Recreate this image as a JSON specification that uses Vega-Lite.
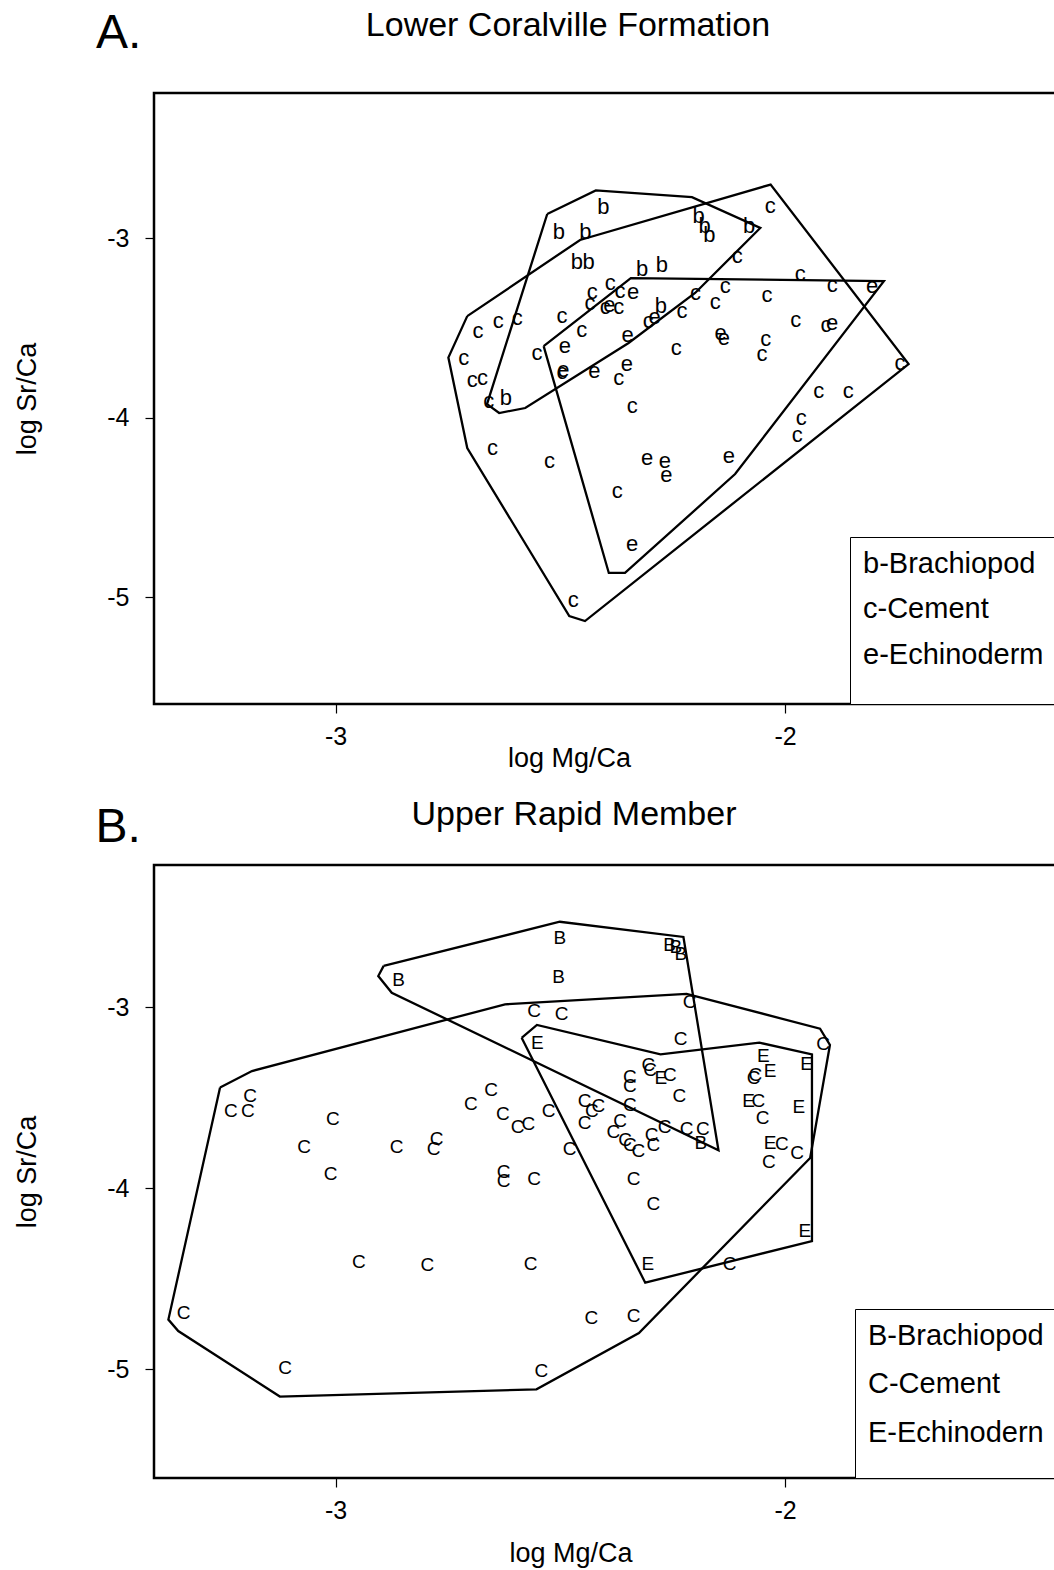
{
  "$schema": "https://vega.github.io/schema/vega-lite/v6.json",
  "background": "white",
  "padding": {"left": 12, "top": 7, "right": 0, "bottom": 0},
  "config": {
    "font": "Liberation Sans",
    "view": {"stroke": "black", "strokeWidth": 2.5},
    "axis": {"grid": false, "domain": false, "tickColor": "black", "tickWidth": 1.2, "tickSize": 9, "labelFont": "Liberation Sans", "labelFontSize": 25, "labelColor": "black", "titleFont": "Liberation Sans", "titleFontSize": 27, "titleFontWeight": "normal", "titleColor": "black"},
    "legend": {"labelFont": "Liberation Sans", "titleFont": "Liberation Sans"}
  },
  "datasets": {
    "lettersA": [
      {"letter":"b","x":-2.404,"y":-2.827},{"letter":"b","x":-2.503,"y":-2.969},{"letter":"b","x":-2.444,"y":-2.969},{"letter":"b","x":-2.192,"y":-2.877},{"letter":"b","x":-2.179,"y":-2.933},{"letter":"b","x":-2.168,"y":-2.983},{"letter":"b","x":-2.080,"y":-2.933},{"letter":"b","x":-2.463,"y":-3.136},{"letter":"b","x":-2.437,"y":-3.136},{"letter":"b","x":-2.318,"y":-3.173},{"letter":"b","x":-2.274,"y":-3.148},{"letter":"b","x":-2.276,"y":-3.379},{"letter":"b","x":-2.621,"y":-3.889},
      {"letter":"c","x":-2.033,"y":-2.822},{"letter":"c","x":-2.106,"y":-3.100},{"letter":"c","x":-1.966,"y":-3.201},{"letter":"c","x":-1.895,"y":-3.259},{"letter":"c","x":-2.040,"y":-3.315},{"letter":"c","x":-2.133,"y":-3.267},{"letter":"c","x":-2.199,"y":-3.304},{"letter":"c","x":-2.155,"y":-3.359},{"letter":"c","x":-2.229,"y":-3.404},{"letter":"c","x":-1.976,"y":-3.454},{"letter":"c","x":-1.909,"y":-3.485},{"letter":"c","x":-2.043,"y":-3.565},{"letter":"c","x":-2.051,"y":-3.646},{"letter":"c","x":-2.242,"y":-3.613},{"letter":"c","x":-1.744,"y":-3.696},{"letter":"c","x":-1.925,"y":-3.852},{"letter":"c","x":-1.859,"y":-3.852},{"letter":"c","x":-1.964,"y":-4.003},{"letter":"c","x":-1.973,"y":-4.097},{"letter":"c","x":-2.389,"y":-3.248},{"letter":"c","x":-2.429,"y":-3.301},{"letter":"c","x":-2.367,"y":-3.295},{"letter":"c","x":-2.434,"y":-3.362},{"letter":"c","x":-2.400,"y":-3.384},{"letter":"c","x":-2.370,"y":-3.384},{"letter":"c","x":-2.304,"y":-3.462},{"letter":"c","x":-2.496,"y":-3.435},{"letter":"c","x":-2.452,"y":-3.515},{"letter":"c","x":-2.638,"y":-3.465},{"letter":"c","x":-2.683,"y":-3.518},{"letter":"c","x":-2.596,"y":-3.443},{"letter":"c","x":-2.715,"y":-3.671},{"letter":"c","x":-2.696,"y":-3.791},{"letter":"c","x":-2.673,"y":-3.780},{"letter":"c","x":-2.659,"y":-3.908},{"letter":"c","x":-2.552,"y":-3.641},{"letter":"c","x":-2.496,"y":-3.747},{"letter":"c","x":-2.370,"y":-3.780},{"letter":"c","x":-2.340,"y":-3.936},{"letter":"c","x":-2.651,"y":-4.167},{"letter":"c","x":-2.524,"y":-4.242},{"letter":"c","x":-2.373,"y":-4.412},{"letter":"c","x":-2.471,"y":-5.014},
      {"letter":"e","x":-2.338,"y":-3.298},{"letter":"e","x":-2.391,"y":-3.373},{"letter":"e","x":-2.290,"y":-3.440},{"letter":"e","x":-1.806,"y":-3.267},{"letter":"e","x":-1.895,"y":-3.476},{"letter":"e","x":-2.143,"y":-3.529},{"letter":"e","x":-2.136,"y":-3.557},{"letter":"e","x":-2.350,"y":-3.543},{"letter":"e","x":-2.490,"y":-3.602},{"letter":"e","x":-2.493,"y":-3.735},{"letter":"e","x":-2.424,"y":-3.741},{"letter":"e","x":-2.352,"y":-3.702},{"letter":"e","x":-2.307,"y":-4.226},{"letter":"e","x":-2.267,"y":-4.242},{"letter":"e","x":-2.264,"y":-4.320},{"letter":"e","x":-2.125,"y":-4.214},{"letter":"e","x":-2.340,"y":-4.705}
    ],
    "hullsA": [
      {"hull":"b","i":0,"x":-2.529,"y":-2.866},{"hull":"b","i":1,"x":-2.421,"y":-2.735},{"hull":"b","i":2,"x":-2.207,"y":-2.772},{"hull":"b","i":3,"x":-2.055,"y":-2.944},{"hull":"b","i":4,"x":-2.200,"y":-3.306},{"hull":"b","i":5,"x":-2.348,"y":-3.585},{"hull":"b","i":6,"x":-2.578,"y":-3.947},{"hull":"b","i":7,"x":-2.636,"y":-3.975},{"hull":"b","i":8,"x":-2.663,"y":-3.925},{"hull":"b","i":9,"x":-2.529,"y":-2.866},
      {"hull":"c","i":0,"x":-2.707,"y":-3.435},{"hull":"c","i":1,"x":-2.749,"y":-3.666},{"hull":"c","i":2,"x":-2.707,"y":-4.170},{"hull":"c","i":3,"x":-2.480,"y":-5.106},{"hull":"c","i":4,"x":-2.445,"y":-5.134},{"hull":"c","i":5,"x":-1.725,"y":-3.702},{"hull":"c","i":6,"x":-2.032,"y":-2.702},{"hull":"c","i":7,"x":-2.456,"y":-3.011},{"hull":"c","i":8,"x":-2.707,"y":-3.435},
      {"hull":"e","i":0,"x":-2.537,"y":-3.602},{"hull":"e","i":1,"x":-2.343,"y":-3.223},{"hull":"e","i":2,"x":-1.780,"y":-3.240},{"hull":"e","i":3,"x":-2.111,"y":-4.315},{"hull":"e","i":4,"x":-2.356,"y":-4.866},{"hull":"e","i":5,"x":-2.392,"y":-4.866},{"hull":"e","i":6,"x":-2.537,"y":-3.602}
    ],
    "lettersB": [
      {"letter":"B","x":-2.860,"y":-2.851},{"letter":"B","x":-2.501,"y":-2.617},{"letter":"B","x":-2.504,"y":-2.834},{"letter":"B","x":-2.257,"y":-2.657},{"letter":"B","x":-2.243,"y":-2.669},{"letter":"B","x":-2.232,"y":-2.707},{"letter":"B","x":-2.187,"y":-3.750},
      {"letter":"C","x":-3.233,"y":-3.575},{"letter":"C","x":-3.190,"y":-3.494},{"letter":"C","x":-3.195,"y":-3.575},{"letter":"C","x":-3.006,"y":-3.617},{"letter":"C","x":-3.070,"y":-3.772},{"letter":"C","x":-3.011,"y":-3.924},{"letter":"C","x":-2.864,"y":-3.772},{"letter":"C","x":-2.775,"y":-3.731},{"letter":"C","x":-2.782,"y":-3.782},{"letter":"C","x":-2.699,"y":-3.536},{"letter":"C","x":-2.654,"y":-3.460},{"letter":"C","x":-2.628,"y":-3.593},{"letter":"C","x":-2.595,"y":-3.663},{"letter":"C","x":-2.571,"y":-3.645},{"letter":"C","x":-2.526,"y":-3.575},{"letter":"C","x":-2.626,"y":-3.912},{"letter":"C","x":-2.626,"y":-3.961},{"letter":"C","x":-2.558,"y":-3.949},{"letter":"C","x":-2.479,"y":-3.785},{"letter":"C","x":-2.948,"y":-4.407},{"letter":"C","x":-2.796,"y":-4.425},{"letter":"C","x":-2.566,"y":-4.422},{"letter":"C","x":-3.338,"y":-4.691},{"letter":"C","x":-3.112,"y":-4.994},{"letter":"C","x":-2.542,"y":-5.011},{"letter":"C","x":-2.431,"y":-4.717},{"letter":"C","x":-2.337,"y":-4.707},{"letter":"C","x":-2.558,"y":-3.022},{"letter":"C","x":-2.497,"y":-3.040},{"letter":"C","x":-2.212,"y":-2.975},{"letter":"C","x":-2.232,"y":-3.178},{"letter":"C","x":-1.915,"y":-3.203},{"letter":"C","x":-2.304,"y":-3.320},{"letter":"C","x":-2.300,"y":-3.348},{"letter":"C","x":-2.256,"y":-3.376},{"letter":"C","x":-2.345,"y":-3.384},{"letter":"C","x":-2.345,"y":-3.436},{"letter":"C","x":-2.345,"y":-3.541},{"letter":"C","x":-2.235,"y":-3.492},{"letter":"C","x":-2.066,"y":-3.373},{"letter":"C","x":-2.070,"y":-3.394},{"letter":"C","x":-2.059,"y":-3.517},{"letter":"C","x":-2.050,"y":-3.613},{"letter":"C","x":-2.007,"y":-3.757},{"letter":"C","x":-1.973,"y":-3.805},{"letter":"C","x":-2.036,"y":-3.856},{"letter":"C","x":-2.367,"y":-3.630},{"letter":"C","x":-2.382,"y":-3.688},{"letter":"C","x":-2.356,"y":-3.735},{"letter":"C","x":-2.345,"y":-3.762},{"letter":"C","x":-2.326,"y":-3.796},{"letter":"C","x":-2.297,"y":-3.707},{"letter":"C","x":-2.293,"y":-3.762},{"letter":"C","x":-2.268,"y":-3.663},{"letter":"C","x":-2.219,"y":-3.676},{"letter":"C","x":-2.183,"y":-3.676},{"letter":"C","x":-2.446,"y":-3.519},{"letter":"C","x":-2.415,"y":-3.547},{"letter":"C","x":-2.430,"y":-3.575},{"letter":"C","x":-2.446,"y":-3.639},{"letter":"C","x":-2.337,"y":-3.948},{"letter":"C","x":-2.293,"y":-4.088},{"letter":"C","x":-2.123,"y":-4.422},
      {"letter":"E","x":-2.551,"y":-3.201},{"letter":"E","x":-2.048,"y":-3.273},{"letter":"E","x":-2.033,"y":-3.356},{"letter":"E","x":-1.952,"y":-3.317},{"letter":"E","x":-2.276,"y":-3.394},{"letter":"E","x":-2.081,"y":-3.517},{"letter":"E","x":-1.969,"y":-3.552},{"letter":"E","x":-2.033,"y":-3.750},{"letter":"E","x":-1.956,"y":-4.238},{"letter":"E","x":-2.305,"y":-4.420}
    ],
    "hullsB": [
      {"hull":"B","i":0,"x":-2.893,"y":-2.773},{"hull":"B","i":1,"x":-2.501,"y":-2.529},{"hull":"B","i":2,"x":-2.226,"y":-2.613},{"hull":"B","i":3,"x":-2.148,"y":-3.792},{"hull":"B","i":4,"x":-2.875,"y":-2.921},{"hull":"B","i":5,"x":-2.905,"y":-2.829},{"hull":"B","i":6,"x":-2.893,"y":-2.773},
      {"hull":"C","i":0,"x":-3.257,"y":-3.445},{"hull":"C","i":1,"x":-3.186,"y":-3.354},{"hull":"C","i":2,"x":-2.623,"y":-2.985},{"hull":"C","i":3,"x":-2.219,"y":-2.927},{"hull":"C","i":4,"x":-1.922,"y":-3.120},{"hull":"C","i":5,"x":-1.900,"y":-3.210},{"hull":"C","i":6,"x":-1.944,"y":-3.834},{"hull":"C","i":7,"x":-2.325,"y":-4.801},{"hull":"C","i":8,"x":-2.553,"y":-5.112},{"hull":"C","i":9,"x":-3.124,"y":-5.152},{"hull":"C","i":10,"x":-3.350,"y":-4.790},{"hull":"C","i":11,"x":-3.372,"y":-4.727},{"hull":"C","i":12,"x":-3.257,"y":-3.445},
      {"hull":"E","i":0,"x":-2.586,"y":-3.170},{"hull":"E","i":1,"x":-2.552,"y":-3.099},{"hull":"E","i":2,"x":-2.277,"y":-3.262},{"hull":"E","i":3,"x":-2.057,"y":-3.197},{"hull":"E","i":4,"x":-1.940,"y":-3.262},{"hull":"E","i":5,"x":-1.940,"y":-4.293},{"hull":"E","i":6,"x":-2.311,"y":-4.523},{"hull":"E","i":7,"x":-2.586,"y":-3.170}
    ]
  },
  "vconcat": [
    {
      "width": 902,
      "height": 611,
      "resolve": {"axis": {"x": "independent", "y": "independent"}},
      "layer": [
        {
          "data": {"name": "hullsA"},
          "mark": {"type": "line", "color": "black", "strokeWidth": 2.3},
          "encoding": {
            "x": {"field": "x", "type": "quantitative", "scale": {"domain": [-3.404, -1.397], "nice": false, "zero": false},
                  "axis": {"orient": "bottom", "values": [-3, -2], "labelExpr": "'-' + abs(datum.value)", "labelPadding": 11, "title": "log Mg/Ca", "titleX": 415, "titleY": 62, "titleAlign": "center", "titleBaseline": "alphabetic"}},
            "y": {"field": "y", "type": "quantitative", "scale": {"domain": [-5.596, -2.192], "nice": false, "zero": false},
                  "axis": {"orient": "left", "values": [-3, -4, -5], "labelExpr": "'-' + abs(datum.value)", "labelPadding": 16, "title": "log Sr/Ca", "titleX": -118.5, "titleBaseline": "alphabetic"}},
            "detail": {"field": "hull", "type": "nominal"},
            "order": {"field": "i", "type": "quantitative"}
          }
        },
        {
          "data": {"name": "lettersA"},
          "mark": {"type": "text", "font": "Liberation Sans", "fontSize": 22, "baseline": "middle", "align": "center"},
          "encoding": {
            "x": {"field": "x", "type": "quantitative", "scale": {"domain": [-3.404, -1.397], "nice": false, "zero": false},
                  "axis": {"orient": "top", "labels": false, "ticks": false, "domain": false, "title": "Lower Coralville Formation", "titleFontSize": 34, "titleX": 413.5, "titleY": -57.7, "titleAlign": "center", "titleBaseline": "alphabetic"}},
            "y": {"field": "y", "type": "quantitative", "scale": {"domain": [-5.596, -2.192], "nice": false, "zero": false},
                  "axis": {"orient": "right", "labels": false, "ticks": false, "domain": false, "title": "A.", "titleFontSize": 48, "titleAngle": 0, "titleX": -960.5, "titleY": -45.7, "titleAlign": "left", "titleBaseline": "alphabetic"}},
            "text": {"field": "letter", "type": "nominal"},
            "color": {"field": "letter", "type": "nominal", "scale": {"domain": ["b", "c", "e"], "range": ["black", "black", "black"]},
                      "legend": {"title": " ", "titleOrient": "bottom", "titleFontSize": 8, "titlePadding": 13.5, "orient": "bottom-right", "offset": 0, "padding": 12, "rowPadding": 15.5, "labelFontSize": 29, "labelColor": "black", "labelOffset": -28, "labelLimit": 400, "symbolSize": 1, "symbolType": "square", "symbolOpacity": 0, "symbolStrokeWidth": 0, "strokeColor": "black", "fillColor": "white",
                                 "labelExpr": "datum.label == 'b' ? 'b-Brachiopod' : datum.label == 'c' ? 'c-Cement' : 'e-Echinoderm'"}}
          }
        }
      ]
    },
    {
      "width": 902,
      "height": 613,
      "resolve": {"axis": {"x": "independent", "y": "independent"}},
      "layer": [
        {
          "data": {"name": "hullsB"},
          "mark": {"type": "line", "color": "black", "strokeWidth": 2.3},
          "encoding": {
            "x": {"field": "x", "type": "quantitative", "scale": {"domain": [-3.404, -1.397], "nice": false, "zero": false},
                  "axis": {"orient": "bottom", "values": [-3, -2], "labelExpr": "'-' + abs(datum.value)", "labelPadding": 11, "title": "log Mg/Ca", "titleX": 416.5, "titleY": 83, "titleAlign": "center", "titleBaseline": "alphabetic"}},
            "y": {"field": "y", "type": "quantitative", "scale": {"domain": [-5.602, -2.2155], "nice": false, "zero": false},
                  "axis": {"orient": "left", "values": [-3, -4, -5], "labelExpr": "'-' + abs(datum.value)", "labelPadding": 16, "title": "log Sr/Ca", "titleX": -118.5, "titleBaseline": "alphabetic"}},
            "detail": {"field": "hull", "type": "nominal"},
            "order": {"field": "i", "type": "quantitative"}
          }
        },
        {
          "data": {"name": "lettersB"},
          "mark": {"type": "text", "font": "Liberation Sans", "fontSize": 19, "baseline": "middle", "align": "center"},
          "encoding": {
            "x": {"field": "x", "type": "quantitative", "scale": {"domain": [-3.404, -1.397], "nice": false, "zero": false},
                  "axis": {"orient": "top", "labels": false, "ticks": false, "domain": false, "title": "Upper Rapid Member", "titleFontSize": 34, "titleX": 419.5, "titleY": -40.5, "titleAlign": "center", "titleBaseline": "alphabetic"}},
            "y": {"field": "y", "type": "quantitative", "scale": {"domain": [-5.602, -2.2155], "nice": false, "zero": false},
                  "axis": {"orient": "right", "labels": false, "ticks": false, "domain": false, "title": "B.", "titleFontSize": 48, "titleAngle": 0, "titleX": -961, "titleY": -23.8, "titleAlign": "left", "titleBaseline": "alphabetic"}},
            "text": {"field": "letter", "type": "nominal"},
            "color": {"field": "letter", "type": "nominal", "scale": {"domain": ["B", "C", "E"], "range": ["black", "black", "black"]},
                      "legend": {"title": " ", "titleOrient": "bottom", "titleFontSize": 8, "titlePadding": 9.5, "orient": "bottom-right", "offset": 0, "padding": 12, "rowPadding": 18.5, "labelFontSize": 29, "labelColor": "black", "labelOffset": -28, "labelLimit": 400, "symbolSize": 1, "symbolType": "square", "symbolOpacity": 0, "symbolStrokeWidth": 0, "strokeColor": "black", "fillColor": "white",
                                 "labelExpr": "datum.label == 'B' ? 'B-Brachiopod' : datum.label == 'C' ? 'C-Cement' : 'E-Echinodern'"}}
          }
        }
      ]
    }
  ],
  "spacing": 161,
  "bounds": "flush",
  "resolve": {"scale": {"color": "independent"}, "legend": {"color": "independent"}}
}
